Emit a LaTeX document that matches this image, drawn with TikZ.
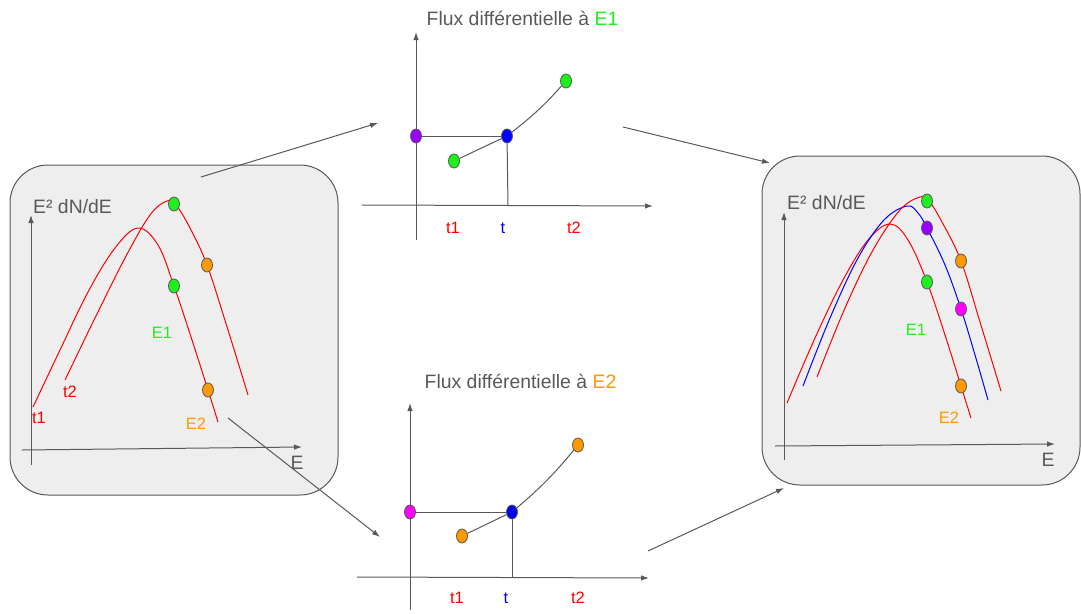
\documentclass[tikz,border=0pt]{standalone}
\usepackage{fontspec}
\setmainfont{Liberation Sans}
\usetikzlibrary{arrows.meta,shapes.geometric}
\definecolor{lgray}{HTML}{595959}
\definecolor{panel}{HTML}{EEEEEE}
\definecolor{cgreen}{HTML}{1EF01E}
\definecolor{corange}{HTML}{FF9900}
\definecolor{cpurple}{HTML}{9900FF}
\definecolor{cmagenta}{HTML}{FF00FF}
\definecolor{cblue}{HTML}{0000FF}
\definecolor{cred}{HTML}{FF0000}
\tikzset{
  panelbox/.style={draw=lgray, fill=panel, line width=1pt, rounded corners=38pt},
  axis/.style={draw=lgray, line width=1pt, -{Latex[length=8pt,width=5.5pt]}},
  plainline/.style={draw=lgray, line width=1pt},
  link/.style={draw=lgray, line width=1pt, -{Latex[length=8pt,width=5.5pt]}},
  curve/.style={line width=1pt, smooth, tension=0.6},
  dot/.style={ellipse, draw=lgray, line width=0.8pt, minimum width=11pt, minimum height=14pt, inner sep=0pt},
  big/.style={font=\fontsize{19.4}{21}\selectfont, text=lgray, inner sep=0pt},
  small/.style={font=\fontsize{16.5}{18}\selectfont, inner sep=0pt},
}
\begin{document}
\begin{tikzpicture}[x=1pt,y=-1pt]
\useasboundingbox (0,0) rectangle (1081,613);
% panels
\path[panelbox] (10,165) rectangle (338,495);
\path[panelbox] (762,156) rectangle (1080,485);

% ---------- left panel ----------
\coordinate (lyb) at (31,465); \coordinate (lyt) at (31,215);
\coordinate (lxb) at (22,450); \coordinate (lxt) at (302,447);
\draw[axis] (lyb) -- (lyt);
\draw[axis] (lxb) -- (lxt);
\draw[curve, cred] plot coordinates {(33,407) (60,350) (88,292) (115,248) (138,228) (158,245) (174,286) (192,340) (208,390) (218,422)};
\draw[curve, cred] plot coordinates {(65,380) (95,318) (125,258) (150,215) (167,201) (176,205) (190,228) (207,265) (228,330) (248,395)};
\node[dot, fill=cgreen] (la1) at (174,204) {};
\node[dot, fill=corange] (la2) at (207,265) {};
\node[dot, fill=cgreen] (lb1) at (174,286) {};
\node[dot, fill=corange] (lb2) at (208,390) {};
\node[big, anchor=west] (lyl) at (33,207) {E² dN/dE};
\node[big] (lxl) at (297,463) {E};
\node[small, text=cred] (lt1) at (39,418) {t1};
\node[small, text=cred] (lt2) at (70,392) {t2};
\node[small, text=cgreen] (le1) at (162,333) {E1};
\node[small, text=corange] (le2) at (196,424) {E2};

% ---------- top middle ----------
\node[big] (ttitle) at (522.5,18) {Flux différentielle à \textcolor{cgreen}{E1}};
\coordinate (tyb) at (416,240); \coordinate (tyt) at (416,32);
\coordinate (txb) at (362,205); \coordinate (txt) at (653,206);
\draw[axis] (tyb) -- (tyt);
\draw[axis] (txb) -- (txt);
\node[dot, fill=cpurple] (tp) at (416,136) {};
\node[dot, fill=cblue] (tb) at (507,136) {};
\node[dot, fill=cgreen] (tg1) at (454,161) {};
\node[dot, fill=cgreen] (tg2) at (566,81) {};
\coordinate (tbase) at (508,205.7);
\draw[plainline] (tp) -- (tb);
\draw[plainline] (tb) -- (tbase);
\draw[plainline] (tg1) -- (tb);
\draw[plainline] (tb) to[bend right=5] (tg2);
\node[small, text=cred] (tt1) at (453,228) {t1};
\node[small, text=cblue] (tt) at (503,228) {t};
\node[small, text=cred] (tt2) at (574,228) {t2};

% ---------- bottom middle ----------
\node[big] (btitle) at (520.5,381) {Flux différentielle à \textcolor{corange}{E2}};
\coordinate (byb) at (410,610); \coordinate (byt) at (410,403);
\coordinate (bxb) at (357,577); \coordinate (bxt) at (649,578);
\draw[axis] (byb) -- (byt);
\draw[axis] (bxb) -- (bxt);
\node[dot, fill=cmagenta] (bm) at (410,512) {};
\node[dot, fill=cblue] (bb) at (512,512) {};
\node[dot, fill=corange] (bo1) at (462,536) {};
\node[dot, fill=corange] (bo2) at (578,445) {};
\coordinate (bbase) at (512,577.7);
\draw[plainline] (bm) -- (bb);
\draw[plainline] (bb) -- (bbase);
\draw[plainline] (bo1) -- (bb);
\draw[plainline] (bb) to[bend right=5] (bo2);
\node[small, text=cred] (bt1) at (457,598) {t1};
\node[small, text=cblue] (bt) at (506,598) {t};
\node[small, text=cred] (bt2) at (578,598) {t2};

% ---------- right panel ----------
\coordinate (ryb) at (784,460); \coordinate (ryt) at (784,212);
\coordinate (rxb) at (775,446); \coordinate (rxt) at (1055,444);
\draw[axis] (ryb) -- (ryt);
\draw[axis] (rxb) -- (rxt);
\draw[curve, cred] plot coordinates {(787,403) (815,338) (843,280) (868,240) (890,224) (908,240) (927,282) (945,335) (961,386) (971,418)};
\draw[curve, cblue] plot coordinates {(803,386) (830,318) (858,258) (884,220) (907,206) (918,213) (927,228) (945,265) (961,309) (975,355) (988,400)};
\draw[curve, cred] plot coordinates {(817,377) (845,308) (873,250) (900,210) (920,197) (929,201) (942,222) (961,261) (980,322) (1001,391)};
\node[dot, fill=cgreen] (ra1) at (927,201) {};
\node[dot, fill=cpurple] (rp) at (927,228) {};
\node[dot, fill=cgreen] (rb1) at (927,282) {};
\node[dot, fill=corange] (ra2) at (961,261) {};
\node[dot, fill=cmagenta] (rm) at (961,309) {};
\node[dot, fill=corange] (rb2) at (961,386) {};
\node[big, anchor=west] (ryl) at (787,203) {E² dN/dE};
\node[big] (rxl) at (1048,460) {E};
\node[small, text=cgreen] (re1) at (916,330) {E1};
\node[small, text=corange] (re2) at (949,418) {E2};

% ---------- links ----------
\coordinate (a1s) at (201,177); \coordinate (a1e) at (378,123);
\coordinate (a2s) at (623,127); \coordinate (a2e) at (770,163);
\coordinate (a3s) at (228,418); \coordinate (a3e) at (380,537);
\coordinate (a4s) at (648,551); \coordinate (a4e) at (784,488);
\draw[link] (a1s) -- (a1e);
\draw[link] (a2s) -- (a2e);
\draw[link] (a3s) -- (a3e);
\draw[link] (a4s) -- (a4e);
\end{tikzpicture}
\end{document}
